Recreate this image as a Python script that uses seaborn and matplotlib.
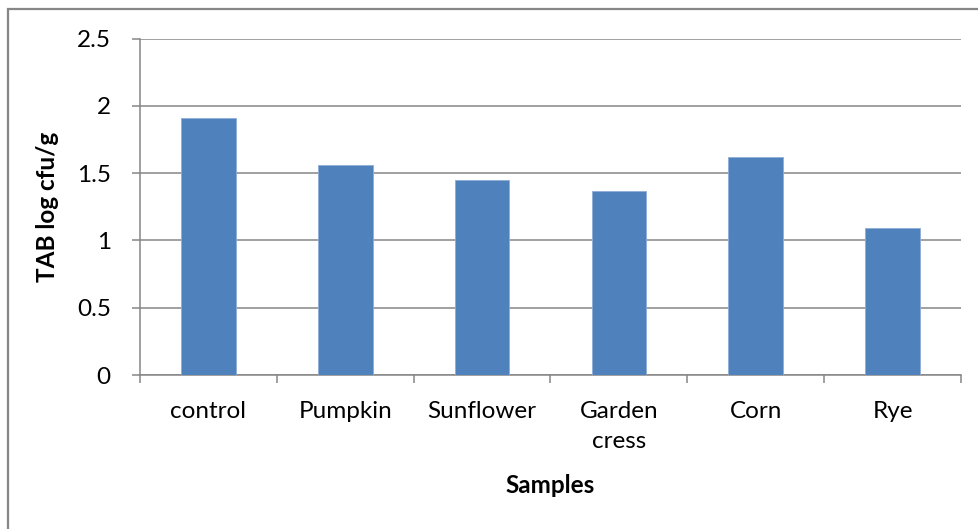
import matplotlib
matplotlib.use("Agg")
import matplotlib.pyplot as plt
import seaborn as sns
import pandas as pd
from matplotlib.patches import Rectangle

# Total aerobic bacteria per sample
samples = ["control", "Pumpkin", "Sunflower", "Garden\ncress", "Corn", "Rye"]
tab_log = [1.91, 1.56, 1.45, 1.37, 1.62, 1.09]
y_ticks = [0, 0.5, 1, 1.5, 2, 2.5]
y_tick_labels = ["0", "0.5", "1", "1.5", "2", "2.5"]

sns.set_theme(style="white")
plt.rcParams["font.family"] = ["Lato", "DejaVu Sans"]

W, H = 979, 529
FS = 17.5
fig = plt.figure(figsize=(W / 100, H / 100), dpi=100)
fig.patch.set_facecolor("white")

# chart frame
fig.patches.append(Rectangle((8 / W, -0.2), 1.2, 1.2 - 8.5 / H, transform=fig.transFigure,
                             fill=False, edgecolor="#868686", linewidth=1.6))

ax = fig.add_axes([140 / W, 1 - 375 / H, (961 - 140) / W, (375 - 38.5) / H])

df = pd.DataFrame({"Samples": samples, "TAB": tab_log})
sns.barplot(data=df, x="Samples", y="TAB", color="#4F81BD", width=0.4,
            saturation=1, edgecolor="#8EACD6", linewidth=0.6, ax=ax, zorder=3)

grid_c = "#868686"
ax.set_ylim(0, 2.5)
ax.set_xlim(-0.5, len(samples) - 0.5)
ax.set_yticks(y_ticks)
ax.set_yticklabels(y_tick_labels)
ax.yaxis.grid(True, color=grid_c, linewidth=1.1)
ax.set_axisbelow(True)

for side in ["top", "right"]:
    ax.spines[side].set_visible(False)
for side in ["left", "bottom"]:
    ax.spines[side].set_color(grid_c)
    ax.spines[side].set_linewidth(1.1)

# category boundary ticks on the x axis
ax.set_xticks([i - 0.5 for i in range(len(samples) + 1)], minor=True)
ax.tick_params(axis="x", which="minor", length=6, width=1.1, color=grid_c, direction="out", bottom=True)
ax.tick_params(axis="x", which="major", length=0, pad=18.5, labelsize=FS, labelcolor="black")
ax.tick_params(axis="y", which="major", length=6, width=1.1, color=grid_c, direction="out",
               left=True, pad=15, labelsize=FS, labelcolor="black")
for lbl in ax.get_xticklabels():
    lbl.set_linespacing(1.55)
    lbl.set_verticalalignment("top")

ax.set_xlabel("Samples", fontsize=FS, fontweight="bold", color="black", labelpad=16)
ax.set_ylabel("TAB log cfu/g", fontsize=FS, fontweight="bold", color="black", labelpad=12.5)

fig.savefig("out.png", dpi=100, facecolor="white")
